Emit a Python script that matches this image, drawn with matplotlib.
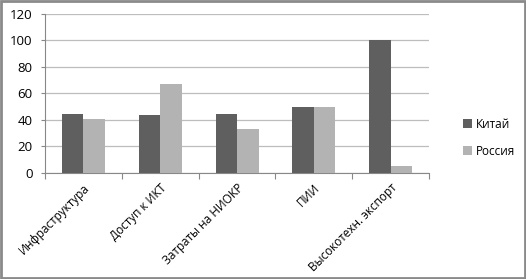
import matplotlib
matplotlib.use("Agg")
import matplotlib.pyplot as plt
import numpy as np
from matplotlib.patches import Rectangle

categories = ["Инфраструктура", "Доступ к ИКТ", "Затраты на НИОКР", "ПИИ", "Высокотехн. экспорт"]
china = [44.5, 43.5, 44.5, 49.5, 100]
russia = [40.5, 67, 33, 50, 5.3]
series_names = ["Китай", "Россия"]
colors = ["#5f5f5f", "#b3b3b3"]

plt.rcParams["font.family"] = ["Open Sans", "DejaVu Sans"]

fig = plt.figure(figsize=(5.26, 2.79), dpi=100)
ax = fig.add_axes([0.0856, 0.380, 0.730, 0.570])

x = np.arange(len(categories))
w = 0.28
ax.bar(x - w / 2, china, w, color=colors[0], label=series_names[0], zorder=3)
ax.bar(x + w / 2, russia, w, color=colors[1], label=series_names[1], zorder=3)

ax.set_xlim(-0.5, len(categories) - 0.5)
ax.set_ylim(0, 120)
ax.set_yticks(range(0, 121, 20))
ax.yaxis.grid(True, color="#bdbdbd", linewidth=0.9, zorder=0)
ax.tick_params(axis="y", labelsize=9.5, length=3, color="#888888", pad=6)

ax.set_xticks(np.arange(-0.5, len(categories), 1.0))
ax.set_xticklabels([])
ax.tick_params(axis="x", length=4, color="#888888")
ax.set_xticks(x, minor=True)
ax.set_xticklabels(categories, minor=True, rotation=45, ha="right",
                   rotation_mode="anchor", fontsize=8.5)
ax.tick_params(axis="x", which="minor", length=0, pad=6)

for s in ["top", "right"]:
    ax.spines[s].set_visible(False)
for s in ["left", "bottom"]:
    ax.spines[s].set_color("#888888")

ax.legend(loc="center left", bbox_to_anchor=(1.06, 0.22), frameon=False,
          fontsize=8.5, handlelength=0.8, handleheight=0.8, handletextpad=0.3,
          labelspacing=1.2)

fig.patches.append(Rectangle((0.002, 0.004), 0.996, 0.992, transform=fig.transFigure,
                             fill=False, edgecolor="#8a8a8a", linewidth=2))

fig.savefig("out.png", dpi=100)
